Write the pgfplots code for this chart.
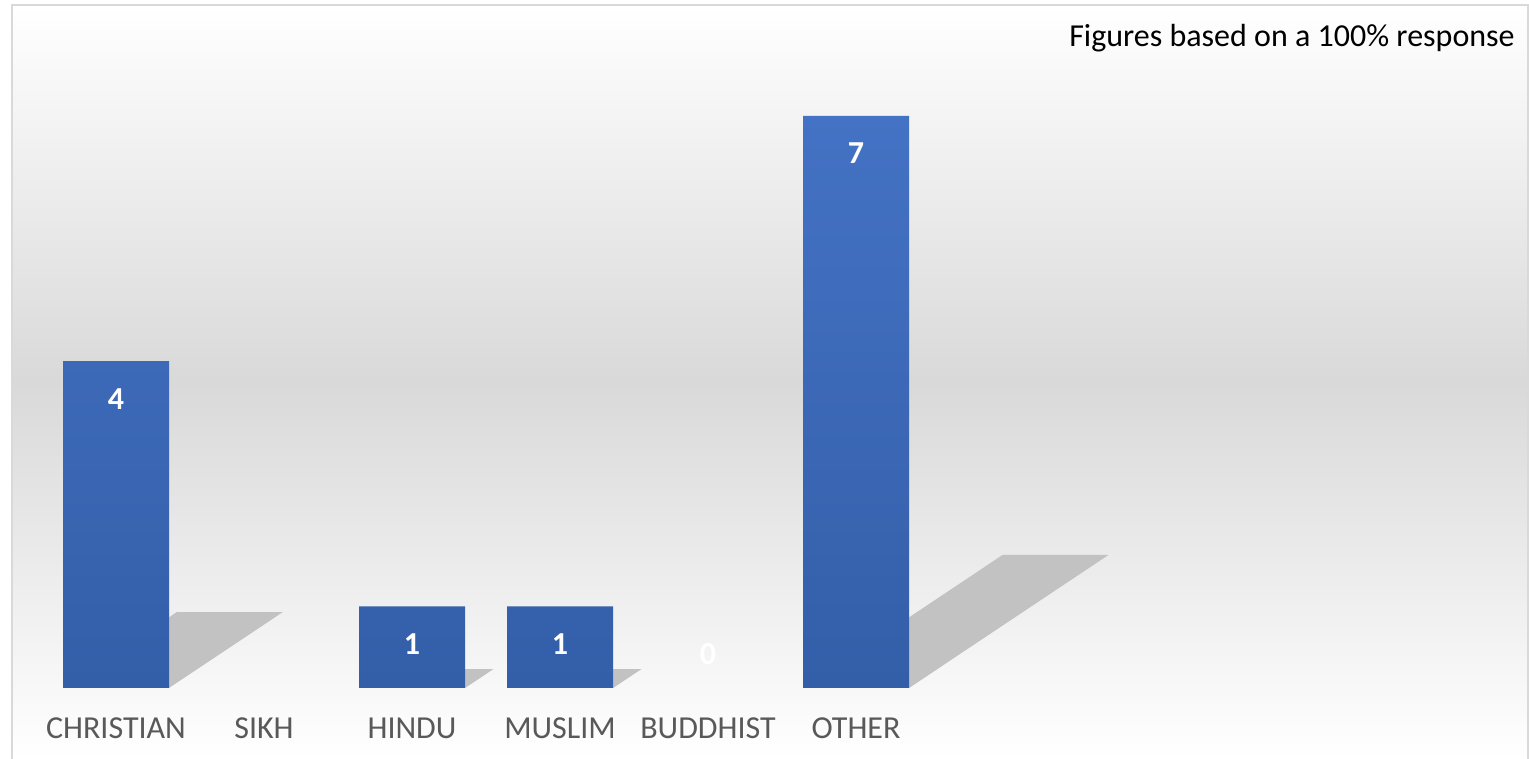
\documentclass[border=0pt]{standalone}
\usepackage{pgfplots}
\pgfplotsset{compat=1.18}
\usepackage{fontspec}
\setmainfont{Carlito}
\definecolor{barTop}{HTML}{4472C4}
\definecolor{barBot}{HTML}{335EA8}
\definecolor{bgMid}{HTML}{D9D9D9}
\definecolor{lblGrey}{HTML}{595959}
\definecolor{shadowGrey}{HTML}{C2C2C2}
\definecolor{frameGrey}{HTML}{D9D9D9}
\begin{document}
\begin{tikzpicture}
\useasboundingbox (0,0) rectangle (764.5pt,379.5pt);
\fill[white] (0,0) rectangle (764.5pt,379.5pt);
\shade[top color=white, bottom color=white, middle color=bgMid] (6pt,0) rectangle (764pt,377pt);
\draw[frameGrey, line width=1pt] (6pt,-1pt) -- (6pt,377pt) -- (764pt,377pt) -- (764pt,-1pt);
\begin{axis}[
  at={(21pt,35.5pt)}, anchor=south west,
  scale only axis, width=740pt, height=286pt,
  xmin=-0.5, xmax=9.5, ymin=0, ymax=7,
  clip=false,
  axis line style={draw=none},
  ytick=\empty,
  xtick={0,1,2,3,4,5},
  xticklabels={CHRISTIAN,SIKH,HINDU,MUSLIM,BUDDHIST,OTHER},
  major tick length=0pt,
  xticklabel style={font=\fontsize{16pt}{19pt}\selectfont, text=lblGrey, anchor=base, inner sep=0pt, yshift=-25pt},
  /pgf/number format/assume math mode=true,
]
% shadows
\addplot[fill=shadowGrey, draw=none] coordinates {(-0.358,0) (0.358,0) (1.128,0.93) (0.412,0.93)} -- cycle;
\addplot[fill=shadowGrey, draw=none] coordinates {(1.642,0) (2.358,0) (2.551,0.2325) (1.835,0.2325)} -- cycle;
\addplot[fill=shadowGrey, draw=none] coordinates {(2.642,0) (3.358,0) (3.551,0.2325) (2.835,0.2325)} -- cycle;
\addplot[fill=shadowGrey, draw=none] coordinates {(4.642,0) (5.358,0) (6.706,1.628) (5.990,1.628)} -- cycle;
% bars
\addplot[ybar, bar width=53pt, bar shift=0pt, draw=none, top color=barTop, bottom color=barBot,
  nodes near coords,
  nodes near coords style={white, font=\fontsize{16pt}{19pt}\selectfont\bfseries, anchor=base, inner sep=0pt, yshift=-24pt}]
  coordinates {(0,4) (2,1) (3,1) (5,7)};
% zero label
\addplot[draw=none, mark=none, nodes near coords,
  nodes near coords style={white, font=\fontsize{16pt}{19pt}\selectfont\bfseries, anchor=base, inner sep=0pt, yshift=11.5pt}]
  coordinates {(4,0)};
\end{axis}
\node[anchor=base east, inner sep=0pt, font=\fontsize{16pt}{19pt}\selectfont] at (757.5pt,356pt) {Figures based on a 100\% response};
\end{tikzpicture}
\end{document}
